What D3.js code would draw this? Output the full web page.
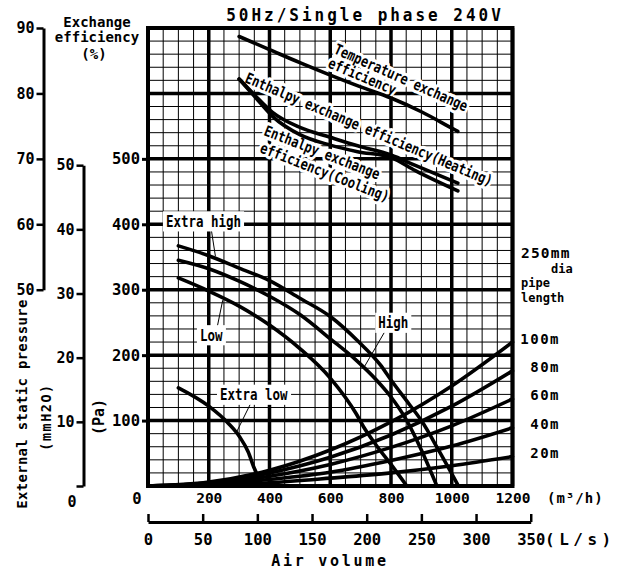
<!DOCTYPE html>
<html>
<head>
<meta charset="utf-8">
<script src="https://cdn.jsdelivr.net/npm/d3@7"></script>
<style>
  body { margin: 0; background: #fff; }
</style>
</head>
<body>
<script>
// ---- data ----
const airTicks = [200, 400, 600, 800, 1000, 1200];      // m3/h
const lsTicks = [0, 50, 100, 150, 200, 250, 300, 350];  // L/s
const paTicks = [100, 200, 300, 400, 500];
const effTicks = [50, 60, 70, 80, 90];
const mmTicks = [0, 10, 20, 30, 40, 50];

// fan curves: [air volume m3/h, static pressure Pa]
const extraHigh = [[100,367],[200,352],[300,333],[400,314],[500,287],[600,259],[690,222],[765,185],[800,162],[860,125],[900,100],[960,52],[1022,0]];
const high      = [[100,345],[200,332],[300,313],[400,290],[500,262],[600,225],[686,192],[752,162],[800,136],[852,100],[900,55],[951,0]];
const low       = [[100,318],[200,298],[300,275],[400,246],[500,210],[600,165],[686,110],[709,91],[752,62],[800,33],[852,0]];
const extraLow  = [[100,150],[200,122],[264,96],[302,75],[330,52],[350,27],[357,20]];
const fanNames = ['Extra high', 'High', 'Low', 'Extra low'];

// duct resistance (250mm dia pipe): [m3/h, Pa]
const pipeNames = ['100m', '80m', '60m', '40m', '20m'];
const pipe100 = [[0,0],[200,6],[400,24],[600,55],[800,98],[1000,153],[1200,220]];
const pipe80  = [[0,0],[200,5],[400,20],[600,44],[800,78],[1000,122],[1200,176]];
const pipe60  = [[0,0],[200,4],[400,15],[600,33],[800,59],[1000,92],[1200,133]];
const pipe40  = [[0,0],[200,2],[400,10],[600,21],[800,39],[1000,61],[1200,89]];
const pipe20  = [[0,0],[200,1],[400,5],[600,12],[800,20],[1000,31],[1200,45]];

// exchange efficiency: [m3/h, %]
const tempEff    = [[300,88.7],[400,86.7],[500,84.7],[600,82.8],[700,81.0],[800,79.3],[900,77.2],[1000,74.7],[1020,74.2]];
const heatingEff = [[300,82.2],[350,79.8],[410,77.1],[500,74.8],[600,73.3],[690,72.0],[800,70.6],[880,69.0],[1020,66.3]];
const coolingEff = [[300,82.2],[350,79.6],[410,76.5],[500,73.7],[600,72.1],[690,71.1],[800,70.2],[880,68.2],[1020,65.1]];

// ---- scales ----
const x = d3.scaleLinear().domain([0, 1200]).range([148, 512.5]);
const y = d3.scaleLinear().domain([0, 700]).range([486, 28]);
const eff = d3.scaleLinear().domain([50, 90]).range([y(300), y(700)]);
const mm = d3.scaleLinear().domain([0, 50]).range([y(0), y(50 * 9.80665)]);
const ls = d3.scaleLinear().domain([0, 350]).range([x(0), x(350 * 3.6)]);

const svg = d3.select('body').append('svg')
    .attr('width', 622).attr('height', 570)
    .style('font-family', '"DejaVu Sans Mono", monospace')
    .style('font-weight', 'bold');

// text helper (group so boxes follow rotation / stretch)
function addText(parent, str, px, py, o = {}) {
    const g = parent.append('g')
        .attr('transform', `translate(${px},${py}) rotate(${o.rot || 0}) scale(1,${o.sy || 1})`);
    const t = g.append('text')
        .attr('font-size', o.size || 14)
        .attr('text-anchor', o.anchor || 'start')
        .attr('letter-spacing', o.ls || 0)
        .attr('fill', '#000')
        .text(str);
    if (o.box) {
        const b = t.node().getBBox();
        g.insert('rect', 'text').attr('x', b.x - 3).attr('y', b.y - 1)
            .attr('width', b.width + 6).attr('height', b.height + 2).attr('fill', '#fff');
    }
    if (o.halo) {
        t.attr('fill', '#fff').attr('stroke', '#fff').attr('stroke-width', o.halo)
            .attr('stroke-linejoin', 'round');
    }
    return g;
}

// ---- grid ----
const grid = svg.append('g');
grid.selectAll('.vl').data(d3.range(0, 1201, 50)).join('line')
    .attr('x1', d => x(d)).attr('x2', d => x(d))
    .attr('y1', y(0)).attr('y2', y(700))
    .attr('stroke', '#000')
    .attr('stroke-width', d => d % 200 === 0 ? 3.5 : 1);
grid.selectAll('.hl').data(d3.range(0, 701, 20)).join('line')
    .attr('x1', x(0)).attr('x2', x(1200))
    .attr('y1', d => y(d)).attr('y2', d => y(d))
    .attr('stroke', '#000')
    .attr('stroke-width', d => d % 100 === 0 ? 3.5 : 1);
grid.append('rect')
    .attr('x', x(0)).attr('y', y(700))
    .attr('width', x(1200) - x(0)).attr('height', y(0) - y(700))
    .attr('fill', 'none').attr('stroke', '#000').attr('stroke-width', 4);

const haloLayer = svg.append('g');
const curveLayer = svg.append('g');
const textLayer = svg.append('g');

// efficiency annotations (white halo under the curves, text on top)
const effNotes = [
    ['Temperature exchange', 333, 53, 24],
    ['efficiency', 327, 67, 23],
    ['Enthalpy exchange efficiency(Heating)', 244, 82, 23],
    ['Enthalpy exchange', 263, 135, 21.3],
    ['efficiency(Cooling)', 259, 152, 21.4]
];
effNotes.forEach(n => {
    addText(haloLayer, n[0], n[1], n[2], { rot: n[3], size: 12, sy: 1.25, halo: 5 });
    addText(textLayer, n[0], n[1], n[2], { rot: n[3], size: 12, sy: 1.25 });
});

// ---- curves ----
const paLine = d3.line().x(d => x(d[0])).y(d => y(d[1])).curve(d3.curveMonotoneX);
const effLine = d3.line().x(d => x(d[0])).y(d => eff(d[1])).curve(d3.curveMonotoneX);

[extraHigh, high, low, extraLow, pipe100, pipe80, pipe60, pipe40, pipe20].forEach(s => {
    curveLayer.append('path').datum(s)
        .attr('d', paLine)
        .attr('fill', 'none').attr('stroke', '#000')
        .attr('stroke-width', 3.6).attr('stroke-linecap', 'round');
});
[tempEff, heatingEff, coolingEff].forEach(s => {
    curveLayer.append('path').datum(s)
        .attr('d', effLine)
        .attr('fill', 'none').attr('stroke', '#000')
        .attr('stroke-width', 3.6).attr('stroke-linecap', 'round');
});

// fan speed labels + leaders
const fanLabelPos = [[59, 396], [758, 241], [171, 222], [237, 131]];
const fanLeaders = [[[208,393],[222,351]], [[786,241],[712,182]], [[227,241],[246,284]], [[341,129],[291,82]]];
fanNames.forEach((name, i) => {
    textLayer.append('line')
        .attr('x1', x(fanLeaders[i][0][0])).attr('y1', y(fanLeaders[i][0][1]))
        .attr('x2', x(fanLeaders[i][1][0])).attr('y2', y(fanLeaders[i][1][1]))
        .attr('stroke', '#000').attr('stroke-width', 1);
    addText(textLayer, name, x(fanLabelPos[i][0]), y(fanLabelPos[i][1]), { size: 12.5, sy: 1.25, box: true });
});

// pipe length labels
const pipeSeries = [pipe100, pipe80, pipe60, pipe40, pipe20];
pipeNames.forEach((name, i) => {
    const last = pipeSeries[i][pipeSeries[i].length - 1];
    addText(svg, name, 560, y(last[1]) + 1.5, { size: 14, ls: 1.5, anchor: 'end' });
});
addText(svg, '250mm', 521, 258, { size: 14.5, ls: 1.2 });
addText(svg, 'dia', 551, 273, { size: 12 });
addText(svg, 'pipe', 521, 287, { size: 12 });
addText(svg, 'length', 521, 302, { size: 12 });

// ---- axes ----
function styleAxis(g, size) {
    g.attr('font-size', null).attr('font-family', null);
    g.selectAll('text').attr('font-size', size).attr('fill', '#000');
    g.selectAll('line').attr('stroke', '#000');
    g.select('.domain').attr('stroke', '#000');
}

const paAxis = svg.append('g').attr('transform', `translate(${x(0)},0)`)
    .call(d3.axisLeft(y).tickValues(paTicks).tickSize(6).tickPadding(2));
styleAxis(paAxis, 15.5);
paAxis.select('.domain').remove();
paAxis.selectAll('line').attr('stroke-width', 3);

const effAxis = svg.append('g').attr('transform', 'translate(43.5,0)')
    .call(d3.axisLeft(eff).tickValues(effTicks).tickSize(7).tickSizeOuter(0).tickPadding(2));
styleAxis(effAxis, 15);
effAxis.selectAll('line').attr('stroke-width', 2.5);
effAxis.select('.domain').attr('stroke-width', 3);

const mmAxis = svg.append('g').attr('transform', 'translate(83.5,0)')
    .call(d3.axisLeft(mm).tickValues(mmTicks).tickSize(7).tickSizeOuter(0).tickPadding(2));
styleAxis(mmAxis, 15);
mmAxis.selectAll('line').attr('stroke-width', 2.5);
mmAxis.select('.domain').attr('stroke-width', 3);
mmAxis.selectAll('.tick').filter(d => d === 0).select('text')
    .attr('x', -7).attr('y', 20).attr('dy', null);

const airAxis = svg.append('g').attr('transform', `translate(0,${y(0)})`)
    .call(d3.axisBottom(x).tickValues(airTicks).tickSize(0).tickFormat(d3.format('d')));
styleAxis(airAxis, 14.5);
airAxis.select('.domain').remove();
airAxis.selectAll('text').attr('y', 17).attr('dy', null);
addText(svg, '(m³/h)', 547, 503, { size: 14, ls: 1 });

const lsAxis = svg.append('g').attr('transform', 'translate(0,522)')
    .call(d3.axisBottom(ls).tickValues(lsTicks).tickSize(-8).tickSizeOuter(0));
styleAxis(lsAxis, 15.5);
lsAxis.selectAll('line').attr('stroke-width', 2.5);
lsAxis.select('.domain').attr('stroke-width', 3);
lsAxis.selectAll('text').attr('y', 23).attr('dy', null);
addText(svg, '(L/s)', 545, 545, { size: 16, ls: 4.5 });
addText(svg, 'Air volume', 330, 566, { size: 15, ls: 2.7, anchor: 'middle' });

// ---- titles ----
addText(svg, '50Hz/Single phase 240V', 365, 21, { size: 16, ls: 3, anchor: 'middle', sy: 1.1 });
addText(svg, 'Exchange', 97, 27, { size: 14, anchor: 'middle' });
addText(svg, 'efficiency', 97, 42, { size: 14, anchor: 'middle' });
addText(svg, '(%)', 94, 59, { size: 14, anchor: 'middle' });
addText(svg, 'External static pressure', 26.5, 404, { size: 14, rot: -90, anchor: 'middle', ls: 0.3 });
addText(svg, '(mmH2O)', 51, 417, { size: 13.5, rot: -90, anchor: 'middle', ls: 1.5 });
addText(svg, '(Pa)', 104, 417, { size: 15, rot: -90, anchor: 'middle' });

// zero of the Pa scale, under the plot corner
svg.append('text')
    .attr('x', 137).attr('y', 504)
    .attr('text-anchor', 'middle')
    .attr('font-size', 15.5)
    .attr('fill', '#000')
    .text('0');
</script>
</body>
</html>
